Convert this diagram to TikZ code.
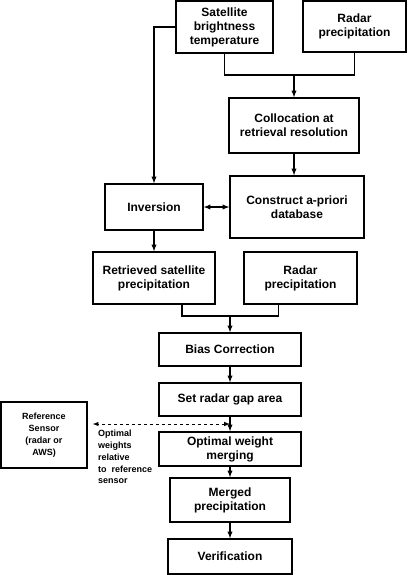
\documentclass[tikz,border=0pt]{standalone}
\usepackage{fontspec}
\setmainfont{Liberation Sans}
\usetikzlibrary{arrows}

\begin{document}
\begin{tikzpicture}[x=1pt,y=-1pt,>=latex,
    blk/.style={draw,line width=1.3pt,align=center,inner sep=0pt,
        font=\bfseries\fontsize{12}{14}\selectfont},
    lnk/.style={line width=1.3pt}]
\useasboundingbox (0,0) rectangle (407,575);
\node[blk,minimum width=97pt,minimum height=52pt] (sat) at (224.5,27) {Satellite\\brightness\\temperature};
\node[blk,minimum width=103pt,minimum height=51pt] (radA) at (354.5,26.5) {Radar\\precipitation};
\node[blk,minimum width=130pt,minimum height=55pt] (coll) at (294,125.5) {Collocation at\\retrieval resolution};
\node[blk,minimum width=134pt,minimum height=62pt] (cons) at (297,207) {Construct a-priori\\database};
\node[blk,minimum width=98pt,minimum height=46pt] (inv) at (154,207) {Inversion};
\node[blk,minimum width=122pt,minimum height=52pt] (ret) at (154,278) {Retrieved satellite\\precipitation};
\node[blk,minimum width=113pt,minimum height=52pt] (radB) at (300.5,278) {Radar\\precipitation};
\node[blk,minimum width=142pt,minimum height=33pt] (bias) at (230,349.5) {Bias Correction};
\node[blk,minimum width=142pt,minimum height=33pt] (gap) at (230,399.5) {Set radar gap area};
\node[blk,minimum width=142pt,minimum height=34pt] (opt) at (230,449) {Optimal weight\\merging};
\node[blk,minimum width=120pt,minimum height=44pt] (mrg) at (230,500) {Merged\\precipitation};
\node[blk,minimum width=124pt,minimum height=35pt] (ver) at (230,556.5) {Verification};
\node[blk,minimum width=86pt,minimum height=66pt,font=\bfseries\fontsize{9}{12}\selectfont] (refs) at (44,435) {Reference\\Sensor\\(radar or\\AWS)};
\node[anchor=north west,align=left,inner sep=0pt,font=\bfseries\fontsize{9}{11.8}\selectfont] (wlbl) at (98,430) {Optimal\\weights\\relative\\to \ reference\\sensor};

\coordinate (jA) at (294,75);
\coordinate (jB) at (230,316);
\coordinate (dsh) at (230,424);
\draw[lnk] (sat.south) |- (jA) -| (radA.south);
\draw[lnk,->] (jA) -- (coll);
\draw[lnk,->] (coll.south) -- (coll.south |- cons.north);
\draw[lnk,->] (sat.west) -| (inv.north);
\draw[lnk,<->] (inv) -- (cons);
\draw[lnk,->] (inv) -- (ret);
\draw[lnk] ([xshift=28pt]ret.south) |- (jB) -| ([xshift=-22pt]radB.south);
\draw[lnk,->] (jB) -- (bias);
\draw[lnk,->] (bias) -- (gap);
\draw[lnk,->] (gap) -- (opt);
\draw[lnk,->] (opt) -- (mrg);
\draw[lnk,->] (mrg) -- (ver);
\draw[line width=1pt,dashed,<->,shorten >=5pt] (dsh) -- (refs.east |- dsh);
\end{tikzpicture}
\end{document}
